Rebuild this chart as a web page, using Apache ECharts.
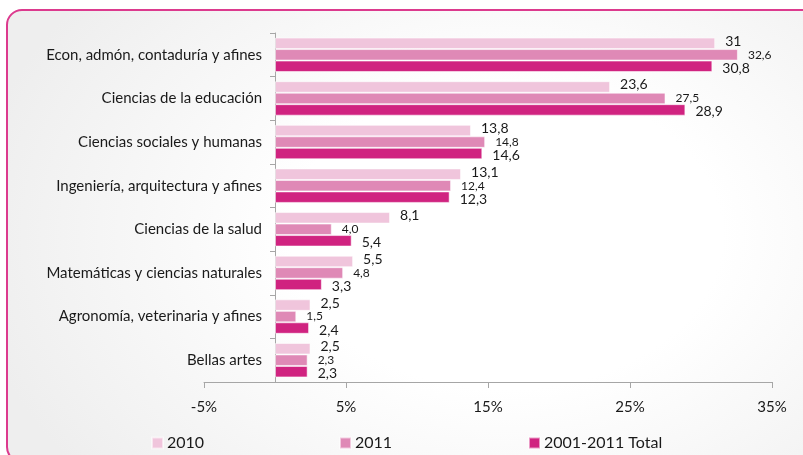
<!DOCTYPE html>
<html>
<head>
<meta charset="utf-8">
<script src="https://cdn.jsdelivr.net/npm/echarts@6/dist/echarts.min.js"></script>
<style>
  body { margin: 0; background: #fff; }
  #wrap { position: relative; width: 803px; height: 455px; overflow: hidden; }
  #frame {
    position: absolute; left: 6px; top: 9px; width: 830px; height: 450px;
    border: 2px solid #dc3a8e; border-radius: 16px;
    background: radial-gradient(ellipse 65% 85% at 60% 50%, #ffffff 0%, #ffffff 40%, #eeeeee 100%);
  }
  #chart { position: absolute; left: 0; top: 0; width: 803px; height: 455px; }
</style>
</head>
<body>
<div id="wrap">
  <div id="frame"></div>
  <div id="chart"></div>
</div>
<script>
const categories = [
  'Econ, admón, contaduría y afines',
  'Ciencias de la educación',
  'Ciencias sociales y humanas',
  'Ingeniería, arquitectura y afines',
  'Ciencias de la salud',
  'Matemáticas y ciencias naturales',
  'Agronomía, veterinaria y afines',
  'Bellas artes'
]
const values2010 = [31, 23.6, 13.8, 13.1, 8.1, 5.5, 2.5, 2.5]
const values2011 = [32.6, 27.5, 14.8, 12.4, 4.0, 4.8, 1.5, 2.3]
const valuesTotal = [30.8, 28.9, 14.6, 12.3, 5.4, 3.3, 2.4, 2.3]
const labels2010 = ['31', '23,6', '13,8', '13,1', '8,1', '5,5', '2,5', '2,5']
const labels2011 = ['32,6', '27,5', '14,8', '12,4', '4,0', '4,8', '1,5', '2,3']
const labelsTotal = ['30,8', '28,9', '14,6', '12,3', '5,4', '3,3', '2,4', '2,3']
const xTicks = [-5, 5, 15, 25, 35]
const xMin = -5
const xMax = 35

const FONT = 'Lato'
const colors = ['#f0c5dc', '#df89b6', '#d02380']

const gridLeft = 204
const gridRight = 31
const gridWidth = 803 - gridLeft - gridRight
// category axis sits where x = 0
const zeroShift = gridWidth * (0 - xMin) / (xMax - xMin)

const makeSeries = (name, data, labels, color, fontSize, dy) => ({
  name,
  type: 'bar',
  data,
  barGap: '0%',
  barCategoryGap: '21%',
  itemStyle: { color, borderColor: 'rgba(255,255,255,0.55)', borderWidth: 1 },
  label: {
    show: true,
    position: 'right',
    distance: 10,
    offset: [0, dy],
    color: '#1a1a1a',
    fontFamily: FONT,
    fontSize,
    formatter: p => labels[p.dataIndex]
  }
})

const makeLegend = (name, left) => ({
  data: [name],
  left,
  top: 430,
  itemWidth: 11,
  itemHeight: 11,
  itemGap: 0,
  icon: 'rect',
  textStyle: { fontFamily: FONT, fontSize: 16, color: '#1a1a1a', padding: [0, 0, 0, -1] }
})

const chart = echarts.init(document.getElementById('chart'), null, { renderer: 'canvas' })
chart.setOption({
  animation: false,
  color: colors,
  grid: { left: gridLeft, right: gridRight, top: 33, bottom: 73, containLabel: false, outerBoundsMode: 'none' },
  legend: [
    makeLegend('2010', 146),
    makeLegend('2011', 334),
    makeLegend('2001-2011 Total', 523)
  ],
  xAxis: {
    type: 'value',
    min: xMin,
    max: xMax,
    interval: 10,
    splitLine: { show: false },
    axisLine: { show: true, lineStyle: { color: '#a6a6a6', width: 1 } },
    axisTick: { show: true, length: 6, customValues: xTicks, lineStyle: { color: '#a6a6a6' } },
    axisLabel: {
      customValues: xTicks,
      formatter: '{value}%',
      margin: 18,
      color: '#1a1a1a',
      fontFamily: FONT,
      fontSize: 15
    }
  },
  yAxis: {
    type: 'category',
    inverse: true,
    data: categories,
    offset: -zeroShift,
    axisLine: { show: true, onZero: false, lineStyle: { color: '#a6a6a6', width: 1 } },
    axisTick: { show: true, length: 5, lineStyle: { color: '#a6a6a6' } },
    axisLabel: { margin: 13, color: '#1a1a1a', fontFamily: FONT, fontSize: 15 }
  },
  series: [
    makeSeries('2010', values2010, labels2010, colors[0], 14, -2),
    makeSeries('2011', values2011, labels2011, colors[1], 12, 0),
    makeSeries('2001-2011 Total', valuesTotal, labelsTotal, colors[2], 14, 2)
  ]
})
</script>
</body>
</html>
